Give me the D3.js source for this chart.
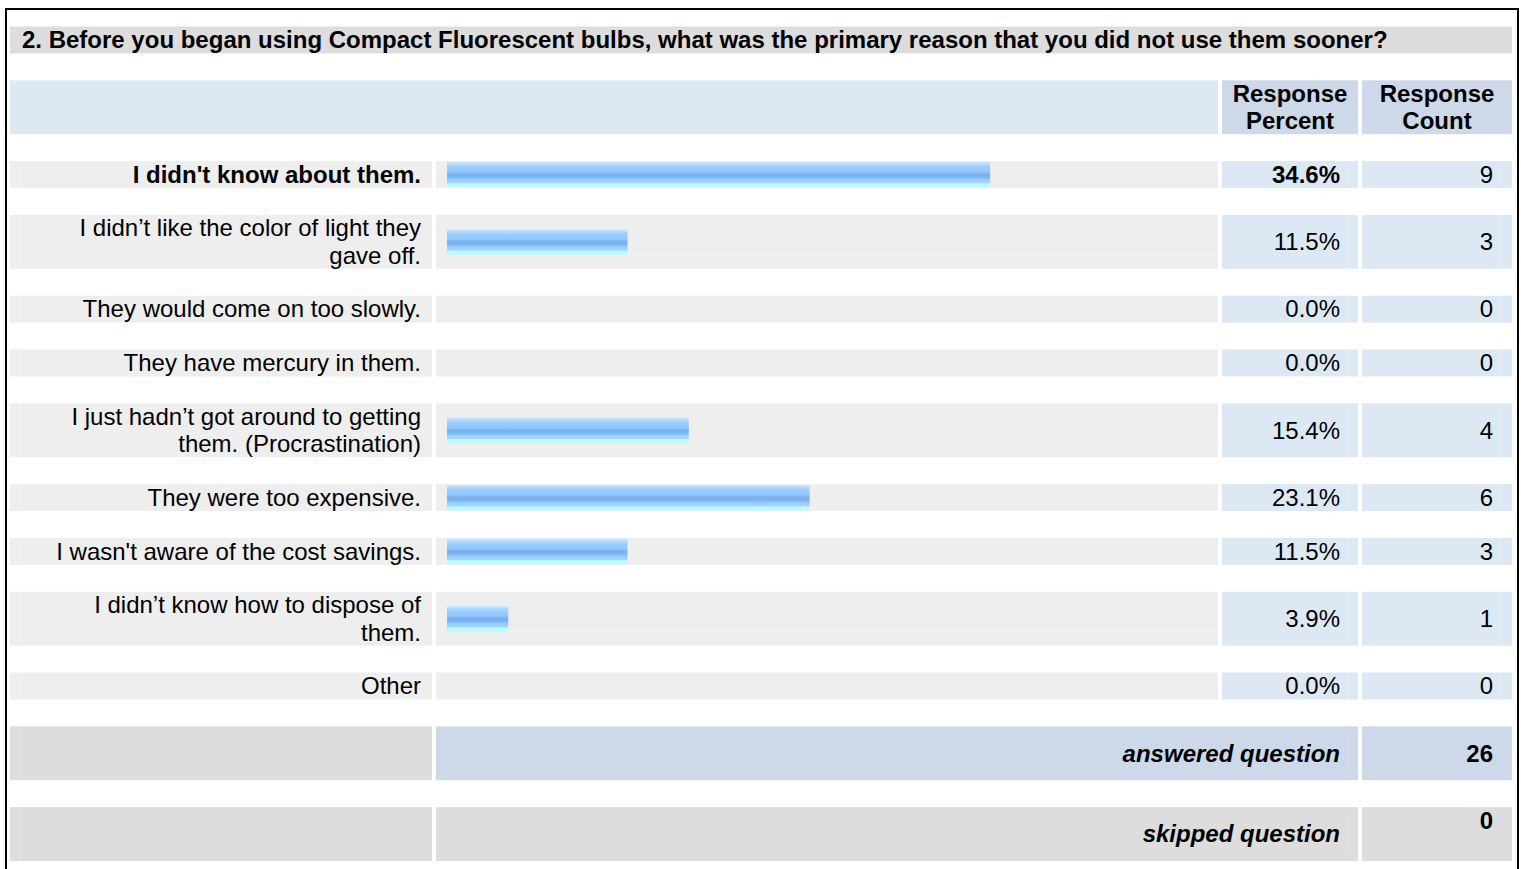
<!DOCTYPE html>
<html>
<head>
<meta charset="utf-8">
<script src="https://cdn.jsdelivr.net/npm/d3@7"></script>
<style>
  body { margin: 0; background: #fff; }
  svg { display: block; }
  text { font-family: "Liberation Sans", Arial, Helvetica, sans-serif; fill: #000; }
</style>
</head>
<body>
<script>
// Survey results table: question 2 of the CFL survey
const width = 1521, height = 869;

const question = "2. Before you began using Compact Fluorescent bulbs, what was the primary reason that you did not use them sooner?";
const headers = [["Response", "Percent"], ["Response", "Count"]];
const answers = [
    ["I didn't know about them."],
    ["I didn’t like the color of light they", "gave off."],
    ["They would come on too slowly."],
    ["They have mercury in them."],
    ["I just hadn’t got around to getting", "them. (Procrastination)"],
    ["They were too expensive."],
    ["I wasn't aware of the cost savings."],
    ["I didn’t know how to dispose of", "them."],
    ["Other"]
];
const percents = [34.6, 11.5, 0.0, 0.0, 15.4, 23.1, 11.5, 3.9, 0.0];
const counts = [9, 3, 0, 0, 4, 6, 3, 1, 0];
const answeredCount = 26;
const skippedCount = 0;

// layout: everything sits on a grid of rows ~27px tall
const y = d3.scaleLinear().domain([0, 31]).range([26.5, 861]);
const x = d3.scaleLinear().domain([0, 100]).range([447, 447 + 1570]);

const col = {
    left: 10, labelEnd: 432, barStart: 436, barEnd: 1218,
    pctStart: 1222, pctEnd: 1358, cntStart: 1362, cntEnd: 1512
};
const fs = 24, lh = 27.6;

// row positions in grid units
let u = 5;
const rows = answers.map((lines, i) => {
    const r = { lines, pct: percents[i], count: counts[i], u0: u, u1: u + lines.length };
    u += lines.length + 1;
    return r;
});
const maxPct = d3.max(percents);

const svg = d3.select("body").append("svg")
    .attr("width", width)
    .attr("height", height);

const grad = svg.append("defs").append("linearGradient")
    .attr("id", "bar").attr("x1", 0).attr("y1", 0).attr("x2", 0).attr("y2", 1);
[[0, "#d3e8fb"], [0.1, "#b4d9fd"], [0.22, "#99ccff"], [0.4, "#92c6fc"],
 [0.5, "#76afef"], [0.6, "#7cb4f3"], [0.7, "#99ccff"], [0.82, "#a3d3ff"],
 [0.86, "#b8fcff"], [1, "#b8fcff"]].forEach(s => {
    grad.append("stop").attr("offset", s[0]).attr("stop-color", s[1]);
});

// frame
svg.append("rect").attr("x", 5).attr("y", 8).attr("width", 1512).attr("height", 870)
    .attr("fill", "none").attr("stroke", "#000").attr("stroke-width", 2)
    .attr("transform", "translate(1,1)");

// title band
svg.append("rect").attr("x", col.left).attr("y", y(0))
    .attr("width", col.cntEnd - col.left).attr("height", y(1) - y(0)).attr("fill", "#dddddd");
svg.append("text").attr("x", 22).attr("y", (y(0) + y(1)) / 2 + 8.5)
    .attr("font-size", fs).attr("font-weight", "bold").text(question);

// header band
svg.append("rect").attr("x", col.left).attr("y", y(2))
    .attr("width", col.barEnd - col.left).attr("height", y(4) - y(2)).attr("fill", "#dde8f5");
[[col.pctStart, col.pctEnd], [col.cntStart, col.cntEnd]].forEach((c, i) => {
    svg.append("rect").attr("x", c[0]).attr("y", y(2))
        .attr("width", c[1] - c[0]).attr("height", y(4) - y(2)).attr("fill", "#cdd9e8");
    const t = svg.append("text").attr("text-anchor", "middle")
        .attr("font-size", fs).attr("font-weight", "bold");
    headers[i].forEach((line, k) => {
        t.append("tspan").attr("x", (c[0] + c[1]) / 2)
            .attr("y", (y(2) + y(4)) / 2 - lh / 2 + 8.3 + k * lh).text(line);
    });
});

// answer rows
const row = svg.append("g").selectAll("g")
    .data(rows)
    .enter().append("g");

row.append("rect").attr("x", col.left).attr("y", d => y(d.u0))
    .attr("width", col.labelEnd - col.left).attr("height", d => y(d.u1) - y(d.u0))
    .attr("fill", "#eeeeee");
row.append("rect").attr("x", col.barStart).attr("y", d => y(d.u0))
    .attr("width", col.barEnd - col.barStart).attr("height", d => y(d.u1) - y(d.u0))
    .attr("fill", "#eeeeee");
row.append("rect").attr("x", col.pctStart).attr("y", d => y(d.u0))
    .attr("width", col.pctEnd - col.pctStart).attr("height", d => y(d.u1) - y(d.u0))
    .attr("fill", "#dde8f5");
row.append("rect").attr("x", col.cntStart).attr("y", d => y(d.u0))
    .attr("width", col.cntEnd - col.cntStart).attr("height", d => y(d.u1) - y(d.u0))
    .attr("fill", "#dde8f5");

// faint inner cell edges
row.append("line").attr("x1", 20.5).attr("x2", 20.5)
    .attr("y1", d => y(d.u0)).attr("y2", d => y(d.u1))
    .attr("stroke", "#f3f3f3");
row.append("line").attr("x1", 1348.5).attr("x2", 1348.5)
    .attr("y1", d => y(d.u0)).attr("y2", d => y(d.u1))
    .attr("stroke", "#e6eef8");
row.append("line").attr("x1", 1500.5).attr("x2", 1500.5)
    .attr("y1", d => y(d.u0)).attr("y2", d => y(d.u1))
    .attr("stroke", "#e6eef8");

row.filter(d => d.pct > 0).append("rect")
    .attr("x", x(0))
    .attr("y", d => (y(d.u0) + y(d.u1)) / 2 - 12.8)
    .attr("width", d => x(d.pct) - x(0))
    .attr("height", 25.6)
    .attr("fill", "url(#bar)");

row.filter(d => d.lines.length > 1).append("line")
    .attr("x1", d => x(d.pct)).attr("x2", col.barEnd)
    .attr("y1", d => (y(d.u0) + y(d.u1)) / 2 + 12.5)
    .attr("y2", d => (y(d.u0) + y(d.u1)) / 2 + 12.5)
    .attr("stroke", "#f5f5f5");

const label = row.append("text")
    .attr("text-anchor", "end")
    .attr("font-size", fs)
    .attr("font-weight", d => d.pct === maxPct ? "bold" : "normal");
label.selectAll("tspan")
    .data(d => d.lines.map((l, k) => ({ l, k, d })))
    .enter().append("tspan")
    .attr("x", 421)
    .attr("y", t => (y(t.d.u0) + y(t.d.u1)) / 2 - (t.d.lines.length - 1) * lh / 2 + 8.3 + t.k * lh)
    .text(t => t.l);

row.append("text")
    .attr("x", 1340).attr("y", d => (y(d.u0) + y(d.u1)) / 2 + 8.3)
    .attr("text-anchor", "end").attr("font-size", fs)
    .attr("font-weight", d => d.pct === maxPct ? "bold" : "normal")
    .text(d => d.pct.toFixed(1) + "%");

row.append("text")
    .attr("x", 1493).attr("y", d => (y(d.u0) + y(d.u1)) / 2 + 8.3)
    .attr("text-anchor", "end").attr("font-size", fs)
    .text(d => d.count);

// summary rows
const summary = [
    { name: "answered question", value: answeredCount, u0: 26, u1: 28, fill: "#cdd9e8", top: false },
    { name: "skipped question", value: skippedCount, u0: 29, u1: 31, fill: "#dddddd", top: true }
];
const sum = svg.append("g").selectAll("g").data(summary).enter().append("g");
sum.append("rect").attr("x", col.left).attr("y", d => y(d.u0))
    .attr("width", col.labelEnd - col.left).attr("height", d => y(d.u1) - y(d.u0))
    .attr("fill", "#dddddd");
sum.append("rect").attr("x", col.barStart).attr("y", d => y(d.u0))
    .attr("width", col.pctEnd - col.barStart).attr("height", d => y(d.u1) - y(d.u0))
    .attr("fill", d => d.fill);
sum.append("rect").attr("x", col.cntStart).attr("y", d => y(d.u0))
    .attr("width", col.cntEnd - col.cntStart).attr("height", d => y(d.u1) - y(d.u0))
    .attr("fill", d => d.fill);
sum.append("line").attr("x1", 20.5).attr("x2", 20.5)
    .attr("y1", d => y(d.u0)).attr("y2", d => y(d.u1)).attr("stroke", "#e6e6e6");
sum.append("line").attr("x1", 1348.5).attr("x2", 1348.5)
    .attr("y1", d => y(d.u0) + 10).attr("y2", d => y(d.u1) - 10).attr("stroke", "#e4e4e4");
sum.append("text")
    .attr("x", 1340).attr("y", d => (y(d.u0) + y(d.u1)) / 2 + 8.3)
    .attr("text-anchor", "end").attr("font-size", fs)
    .attr("font-weight", "bold").attr("font-style", "italic")
    .text(d => d.name);
sum.append("text")
    .attr("x", 1493)
    .attr("y", d => d.top ? y(d.u0) + 22 : (y(d.u0) + y(d.u1)) / 2 + 8.3)
    .attr("text-anchor", "end").attr("font-size", fs).attr("font-weight", "bold")
    .text(d => d.value);
</script>
</body>
</html>
